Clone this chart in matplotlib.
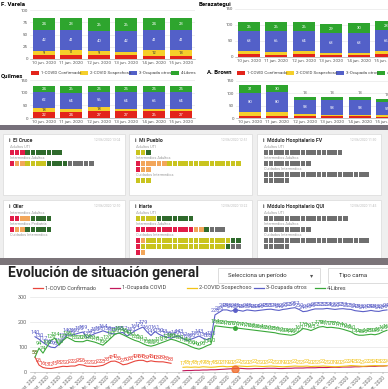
import datetime
import numpy as np
import matplotlib.pyplot as plt
from matplotlib.patches import Rectangle

plt.rcParams['font.family'] = ['Roboto', 'DejaVu Sans']

W, H = 388, 389

# ---- barras apiladas por partido ----
bar_dates = ['10 jun. 2020', '11 jun. 2020', '12 jun. 2020',
             '13 jun. 2020', '14 jun. 2020', '15 jun. 2020']
bar_names = ['1-COVID Confirmado', '2-COVID Sospechoso', '3-Ocupada otros', '4-Libres']
bar_colors = ['#e3241b', '#f5cf2a', '#5360c8', '#2ea52e']
bar_text = ['white', '#333333', 'white', 'white']

varela_conf = [8, 8, 8, 8, 6, 6]
varela_sosp = [9, 11, 9, 7, 12, 13]
varela_otros = [42, 41, 40, 42, 41, 41]
varela_libres = [24, 23, 26, 26, 24, 23]

quilmes_conf = [22, 24, 27, 27, 26, 27]
quilmes_sosp = [18, 12, 18, 10, 10, 10]
quilmes_otros = [62, 64, 56, 64, 65, 64]
quilmes_libres = [24, 26, 25, 25, 25, 25]

beraz_conf = [8, 7, 8, 5, 7, 8]
beraz_sosp = [11, 9, 10, 6, 6, 11]
beraz_otros = [63, 66, 64, 63, 63, 65]
beraz_libres = [26, 26, 26, 29, 30, 28]

brown_conf = [9, 10, 7, 7, 7, 5]
brown_sosp = [14, 14, 9, 6, 6, 6]
brown_otros = [80, 80, 58, 58, 58, 55]
brown_libres = [31, 30, 13, 13, 13, 13]

# ---- tarjetas de hospitales (R rojo, O naranja, Y amarillo, G verde, S sin dato) ----
state_colors = {'R': '#e11d48', 'O': '#f2a65a', 'Y': '#c9c41f', 'G': '#2f6a2c', 'S': '#6f6f6f'}
card_titles = ['El Cruce', 'Mi Pueblo', 'Módulo Hospitalario FV',
               'Oller', 'Iriarte', 'Módulo Hospitalario QUI']
card_dates = ['12/06/2020 13:04', '12/06/2020 12:51', '12/06/2020 11:30',
              '12/06/2020 12:10', '12/06/2020 13:22', '12/06/2020 11:45']
cruce_rows = [('Adultos UTI', ['RRRGGGGGGG']),
              ('Intermedios Adultos', ['ROOYYYYGGGGSSSSS'])]
pueblo_rows = [('Adultos UTI', ['YYG']),
               ('Intermedios Adultos', ['ROOOOOYYYYYYYYYYYYYY', 'ROO']),
               ('Cuidados Intermedios', ['YYY'])]
modulo_fv_rows = [('Adultos UTI', ['S' * 15]),
                  ('Intermedios Adultos', ['S' * 9]),
                  ('Cuidados Intermedios', ['S' * 20, 'S' * 5])]
oller_rows = [('Intermedios Adultos', ['RROOGGGG']),
              ('Intermedios Pediatría', ['ROOGGGGG']),
              ('Cuidados Intermedios', [])]
iriarte_rows = [('Adultos UTI', ['YYYYGGGGGGG']),
                ('Intermedios Adultos', ['RRRRRRRRRRROOGSSS']),
                ('Cuidados Intermedios', ['ROYYYYYYYYYYYYYYYYGG',
                                          'RYYYYYYYYYYYYYYYYGSS', 'RO'])]
modulo_qui_rows = [('Adultos UTI', ['S' * 16]),
                   ('Intermedios Adultos', ['S' * 9]),
                   ('Cuidados Intermedios', ['S' * 20, 'S' * 5])]

# ---- evolucion diaria (desde 20 mar. 2020) ----
start_day = datetime.date(2020, 3, 20)
otros = [140, 130, 117, 106, 98, 96, 110, 128, 147, 146,
         150, 155, 159, 135, 145, 153, 158, 164, 158, 153,
         151, 155, 157, 143, 153, 164, 172, 179, 160, 145,
         161, 150, 143, 138, 134, 140, 143, 132, 125, 130,
         136, 143, 134, 128, 135,
         228, 238, 248, 248, 243, 248, 246, 243, 248, 246,
         244, 246, 248, 250, 251, 248, 246, 250, 252, 255,
         257, 250, 241, 243, 248,
         252, 252, 252, 254, 252, 250, 252, 253, 251, 250,
         245, 243, 241, 243, 246, 243, 242, 246, 248]
libres = [58, 94, 74, 100, 126, 134, 106, 125, 138, 130,
          121, 120, 120, 126, 122, 118, 112, 106, 120, 135,
          150, 155, 148, 140, 132, 125, 120, 112, 105, 102,
          106, 112, 118, 124, 130, 126, 120, 114, 108, 100,
          94, 90, 96, 104, 110,
          184, 182, 180, 178, 176, 176, 174, 172, 170, 168,
          166, 164, 162, 160, 158, 156, 152, 150, 148, 146,
          150, 160, 173, 170, 165,
          172, 179, 181, 177, 178, 176, 174, 170, 165, 160,
          150, 146, 146, 148, 150, 148, 152, 160, 166]
confirmado = [58, 26, 16, 13, 12, 15, 18, 21, 20, 22,
              22, 28, 26, 21, 21, 20, 22, 25, 33, 41,
              42, 36, 27, 30, 36, 42, 45, 45, 39, 43,
              40, 39, 39, 36, 33] + [None] * 54
sospechoso = [None] * 37 + [17, 18, 17, 18, 17, 19, 18, 17, 18, 20,
                            21, 19, 20, 21, 22, 21, 20, 21, 22, 21,
                            20, 21, 22, 21, 20, 19, 20, 21, 22, 21,
                            21, 22, 20, 21, 21, 22, 21, 20, 19, 20,
                            21, 22, 24, 23, 22, 21, 22, 23, 24, 23,
                            22, 24]
ocupada_covid = [None] * 37 + [3, 4, 4, 5, 5, 6, 6, 7, 7, 8,
                               9, 10, 11, 12, 13, 12, 11, 11, 12, 12,
                               12, 13, 13, 13, 12, 12, 13, 13, 14, 14,
                               14, 15, 15, 15, 16, 16, 16, 17, 17, 17,
                               18, 18, 18, 19, 19, 20, 20, 21, 21, 22,
                               22, 23]
line_names = ['1-COVID Confirmado', '1-Ocupada COVID', '2-COVID Sospechoso',
              '3-Ocupada otros', '4-Libres']
line_colors = ['#e8453c', '#c2185b', '#f2c315', '#5b5fc7', '#3aa83a']
meses = {3: 'mar', 4: 'abr', 5: 'may', 6: 'jun'}

fig = plt.figure(figsize=(W / 100, H / 100), dpi=100)
bg = fig.add_axes([0, 0, 1, 1])
bg.set_xlim(0, W)
bg.set_ylim(H, 0)
bg.axis('off')


def box(x, y, w, h, **kw):
    bg.add_patch(Rectangle((x, y), w, h, **kw))


def axes_px(x0, y0, x1, y1):
    return fig.add_axes([x0 / W, 1 - y1 / H, (x1 - x0) / W, (y1 - y0) / H])


def stacked(ax, series, ymax, step):
    x = np.arange(len(bar_dates))
    bottom = np.zeros(len(x))
    hpx = ax.get_position().height * H
    for k, vals in enumerate(series):
        vals = np.array(vals, dtype=float)
        ax.bar(x, vals, 0.8, bottom=bottom, color=bar_colors[k], zorder=2)
        for xi, b, v in zip(x, bottom, vals):
            if v / ymax * hpx >= 4:
                ax.text(xi, b + v / 2, str(int(v)), ha='center', va='center',
                        fontsize=3, color=bar_text[k], zorder=3)
            elif k == len(series) - 1:
                ax.text(xi, b + v + ymax * 0.05, str(int(v)), ha='center',
                        va='bottom', fontsize=3, color='#555555')
        bottom += vals
    ax.set_xlim(-0.5, len(x) - 0.5)
    ax.set_ylim(0, ymax)
    ax.set_yticks(np.arange(0, ymax + 1, step))
    ax.set_xticks(x)
    ax.set_xticklabels(bar_dates)
    ax.tick_params(labelsize=3.2, length=0, pad=1.5, colors='#555555')
    ax.grid(axis='y', color='#e3e3e3', lw=0.4, zorder=0)
    for s in ['top', 'right', 'left']:
        ax.spines[s].set_visible(False)
    ax.spines['bottom'].set_color('#999999')
    ax.spines['bottom'].set_linewidth(0.4)
    ax.set_facecolor('none')


def bar_legend(xs, y):
    for x, name, col in zip(xs, bar_names, bar_colors):
        box(x, y - 2, 8, 4, color=col, lw=0)
        bg.text(x + 10, y, name, fontsize=3.2, va='center', color='#444444')


# ---- seccion superior ----
bg.text(1, 4, 'F. Varela', fontsize=4.3, fontweight='bold', va='center')
bg.text(199, 4, 'Berazategui', fontsize=4.3, fontweight='bold', va='center')
bg.text(0.5, 76, 'Quilmes', fontsize=4.3, fontweight='bold', va='center')
bg.text(207, 72, 'A. Brown', fontsize=4.3, fontweight='bold', va='center')

stacked(axes_px(30, 10, 195, 59), [varela_conf, varela_sosp, varela_otros, varela_libres], 100, 25)
stacked(axes_px(30, 80, 195, 118), [quilmes_conf, quilmes_sosp, quilmes_otros, quilmes_libres], 150, 50)
stacked(axes_px(235, 9, 400, 57), [beraz_conf, beraz_sosp, beraz_otros, beraz_libres], 150, 50)
stacked(axes_px(236, 81, 401, 118), [brown_conf, brown_sosp, brown_otros, brown_libres], 150, 50)
bar_legend([31, 80, 129, 171], 73)
bar_legend([237, 286, 336, 377], 73)

# ---- seccion tarjetas ----
box(0, 125, W, 5, color='#76707a', lw=0)
box(0, 130, W, 128, color='#efefef', lw=0)
box(0, 258, W, 7, color='#7b7479', lw=0)


def card(x0, y0, x1, y1, title, date, rows):
    box(x0, y0, x1 - x0, y1 - y0, facecolor='white', edgecolor='#dadada', lw=0.5)
    bg.text(x0 + 6, y0 + 6, 'i', fontsize=4, fontweight='bold', va='center', color='#333333')
    bg.text(x0 + 10, y0 + 6, title, fontsize=3.8, fontweight='bold', va='center', color='#333333')
    bg.text(x1 - 5, y0 + 6, date, fontsize=2.3, va='center', ha='right', color='#bbbbbb')
    y = y0 + 12.5
    for label, lines in rows:
        bg.text(x0 + 6.5, y, label, fontsize=2.8, va='center', color='#9a9a9a')
        top = y + 3.5
        for line in lines:
            for j, c in enumerate(line):
                box(x0 + 6.5 + j * 5.3, top, 4.6, 5, color=state_colors[c], lw=0)
            top += 6
        y = top + 1.5


card_boxes = [(3, 134, 125, 195), (129, 134, 252, 195), (257, 134, 381, 195),
              (3, 200, 125, 262), (129, 200, 252, 262), (257, 200, 381, 262)]
card_rows = [cruce_rows, pueblo_rows, modulo_fv_rows, oller_rows, iriarte_rows, modulo_qui_rows]
for (x0, y0, x1, y1), t, d, r in zip(card_boxes, card_titles, card_dates, card_rows):
    card(x0, y0, x1, y1, t, d, r)
box(0, 258, W, 7, color='#7b7479', lw=0, zorder=5)

# ---- seccion evolucion ----
bg.text(8, 273, 'Evolución de situación general', fontsize=10, fontweight='bold',
        va='center', color='#222222')
box(218, 268, 102, 15, facecolor='white', edgecolor='#cfcfcf', lw=0.5)
bg.text(228, 275.5, 'Selecciona un período', fontsize=4.3, va='center', color='#333333')
bg.text(310, 275.5, '▾', fontsize=4.5, va='center', color='#555555')
box(328, 268, 70, 15, facecolor='white', edgecolor='#cfcfcf', lw=0.5)
bg.text(339, 275.5, 'Tipo cama', fontsize=4.3, va='center', color='#333333')

leg_x = [33, 110, 187, 254, 315]
for x, name, col in zip(leg_x, line_names, line_colors):
    bg.plot([x, x + 10], [288, 288], color=col, lw=0.9)
    bg.text(x + 12, 288, name, fontsize=4, va='center', color='#444444')

ax = axes_px(30, 297, 388, 371.5)
series = [confirmado, ocupada_covid, sospechoso, otros, libres]
x = np.arange(len(otros))
for k, vals in enumerate(series):
    v = np.array(vals, dtype=float)
    ax.plot(x, v, color=line_colors[k], lw=0.8, zorder=3)
    if k == 1:
        continue
    for xi, vi in zip(x, v):
        if not np.isnan(vi):
            ax.annotate(str(int(vi)), (xi, vi), xytext=(0, 1.2), textcoords='offset points',
                        ha='center', va='bottom', fontsize=4, color=line_colors[k], zorder=4)
ax.plot([50], [otros[50]], 'o', ms=2.5, color=line_colors[3], zorder=5)
ax.plot([50], [libres[50]], 'o', ms=2.5, color=line_colors[4], zorder=5)
ax.plot([50], [ocupada_covid[50]], 'o', ms=5, color='#f06a2a', alpha=0.8, zorder=5)

ax.set_xlim(-1.25, 88.25)
ax.set_ylim(0, 300)
ax.set_yticks([0, 100, 200, 300])
tick_idx = list(range(0, len(otros), 3))
ax.set_xticks(tick_idx)
labels = []
for i in tick_idx:
    d = start_day + datetime.timedelta(days=i)
    labels.append(f'{d.day} {meses[d.month]}. 2020')
ax.set_xticklabels(labels, rotation=45, ha='right', rotation_mode='anchor')
ax.tick_params(axis='x', labelsize=3.5, length=1.5, width=0.3, pad=1, colors='#666666')
ax.tick_params(axis='y', labelsize=4, length=0, pad=2, colors='#666666')
ax.grid(axis='y', color='#e6e6e6', lw=0.5, zorder=0)
for s in ['top', 'right', 'left']:
    ax.spines[s].set_visible(False)
ax.spines['bottom'].set_color('#bbbbbb')
ax.spines['bottom'].set_linewidth(0.5)
ax.set_facecolor('none')

fig.savefig('out.png', dpi=100)
